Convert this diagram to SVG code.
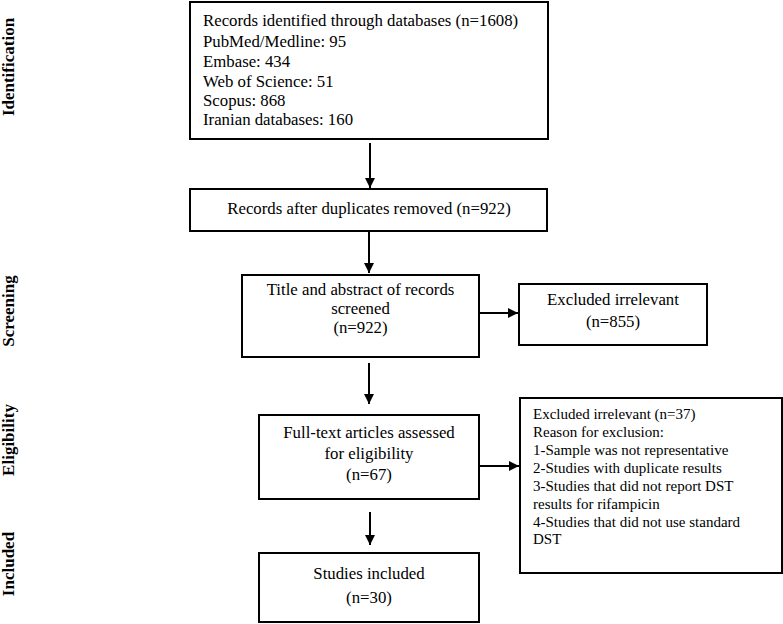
<svg xmlns="http://www.w3.org/2000/svg" width="783" height="624" viewBox="0 0 783 624">
<style>
.box{fill:#fff;stroke:#000;stroke-width:2}
.t{font-family:"Liberation Serif","Times New Roman",serif;font-size:16.8px;fill:#000}
.s{font-family:"Liberation Serif","Times New Roman",serif;font-size:15px;fill:#000}
.c{text-anchor:middle}
.side{font-family:"Liberation Serif","Times New Roman",serif;font-size:17px;font-weight:bold;fill:#000;text-anchor:middle}
.ln{stroke:#000;stroke-width:2;fill:none}
</style>
<defs>
<marker id="ah" viewBox="0 0 10 10" refX="10" refY="5" markerWidth="5" markerHeight="5" orient="auto" markerUnits="strokeWidth">
<path d="M0,0 L10,5 L0,10 z" fill="#000"/>
</marker>
</defs>
<g id="phases">
<text class="side" transform="translate(14,67) rotate(-90)">Identification</text>
<text class="side" transform="translate(14,311) rotate(-90)">Screening</text>
<text class="side" transform="translate(14,440) rotate(-90)">Eligibility</text>
<text class="side" transform="translate(14,564) rotate(-90)">Included</text>
</g>
<g id="identified">
<rect class="box" x="190" y="2" width="358" height="137"/>
<text class="t" x="203" y="26">Records identified through databases (n=1608)</text>
<text class="t" x="203" y="47">PubMed/Medline: 95</text>
<text class="t" x="203" y="67">Embase: 434</text>
<text class="t" x="203" y="87">Web of Science: 51</text>
<text class="t" x="203" y="106">Scopus: 868</text>
<text class="t" x="203" y="125">Iranian databases: 160</text>
</g>
<g id="duplicates">
<rect class="box" x="190" y="189" width="357" height="42"/>
<text class="t c" x="369" y="214">Records after duplicates removed (n=922)</text>
</g>
<g id="screened">
<rect class="box" x="242" y="275" width="237" height="82"/>
<text class="t c" x="360.5" y="295">Title and abstract of records</text>
<text class="t c" x="360.5" y="314">screened</text>
<text class="t c" x="360.5" y="333">(n=922)</text>
</g>
<g id="excluded1">
<rect class="box" x="519" y="284" width="188" height="61"/>
<text class="t c" x="613" y="305">Excluded irrelevant</text>
<text class="t c" x="613" y="327">(n=855)</text>
</g>
<g id="fulltext">
<rect class="box" x="259" y="415" width="220" height="84"/>
<text class="t c" x="369" y="438">Full-text articles assessed</text>
<text class="t c" x="369" y="459">for eligibility</text>
<text class="t c" x="369" y="480">(n=67)</text>
</g>
<g id="excluded2">
<rect class="box" x="520" y="398" width="262" height="175"/>
<text class="s" x="533" y="419">Excluded irrelevant (n=37)</text>
<text class="s" x="533" y="437">Reason for exclusion:</text>
<text class="s" x="533" y="455">1-Sample was not representative</text>
<text class="s" x="533" y="473">2-Studies with duplicate results</text>
<text class="s" x="533" y="491">3-Studies that did not report DST</text>
<text class="s" x="533" y="509">results for rifampicin</text>
<text class="s" x="533" y="527">4-Studies that did not use standard</text>
<text class="s" x="533" y="544">DST</text>
</g>
<g id="included">
<rect class="box" x="259" y="553" width="220" height="69"/>
<text class="t c" x="369" y="579">Studies included</text>
<text class="t c" x="369" y="603">(n=30)</text>
</g>
<g id="connectors">
<line class="ln" x1="370" y1="143" x2="370" y2="188" marker-end="url(#ah)"/>
<line class="ln" x1="369" y1="232" x2="369" y2="273" marker-end="url(#ah)"/>
<line class="ln" x1="369" y1="363" x2="369" y2="404" marker-end="url(#ah)"/>
<line class="ln" x1="370" y1="512" x2="370" y2="545" marker-end="url(#ah)"/>
<line class="ln" x1="479" y1="313" x2="518" y2="313" marker-end="url(#ah)"/>
<line class="ln" x1="479" y1="466" x2="519" y2="466" marker-end="url(#ah)"/>
</g>
</svg>
